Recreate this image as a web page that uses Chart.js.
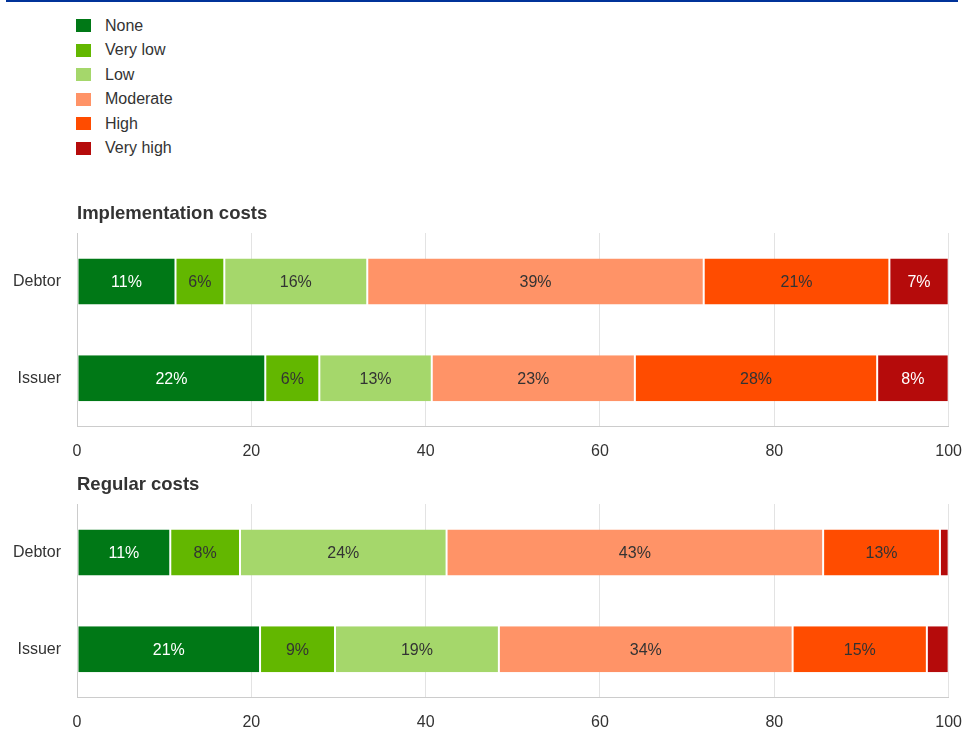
<!DOCTYPE html>
<html>
<head>
<meta charset="utf-8">
<script src="https://cdn.jsdelivr.net/npm/chart.js@4"></script>
<style>
  body { margin: 0; width: 964px; height: 729px; overflow: hidden; background: #fff; font-family: "Liberation Sans", Arial, sans-serif; }
  #topline { position: absolute; left: 6px; right: 6px; top: 0; height: 2px; background: #003299; }
  #legend { position: absolute; left: 76px; top: 13.5px; }
  .row { display: flex; align-items: center; height: 24.5px; font-size: 16px; color: #333; }
  .box { width: 15px; height: 13px; margin-right: 14px; }
  .wrap { position: absolute; left: 0; width: 977px; height: 287px; }
</style>
</head>
<body>
<div id="topline"></div>
<div id="legend"></div>
<div class="wrap" style="top:189px"><canvas id="implChart"></canvas></div>
<div class="wrap" style="top:460px"><canvas id="regChart"></canvas></div>
<script>
var categories = ['Debtor', 'Issuer'];
var levels = ['None', 'Very low', 'Low', 'Moderate', 'High', 'Very high'];
var colors = ['#007816', '#63b700', '#a5d76b', '#ff9367', '#ff4c00', '#b50b0b'];
var labelColors = ['#fff', '#333', '#333', '#333', '#333', '#fff'];

// shares in %, per level (None .. Very high)
var implDebtor = [11.3, 5.6, 16.4, 38.6, 21.3, 6.8];
var implIssuer = [21.6, 6.2, 12.9, 23.3, 27.8, 8.2];
var regDebtor = [10.7, 8.0, 23.7, 43.2, 13.4, 1.0];
var regIssuer = [21.0, 8.6, 18.8, 33.7, 15.4, 2.5];

var font = '"Liberation Sans", Arial, sans-serif';

// html legend
var legend = document.getElementById('legend');
levels.forEach(function (name, i) {
  var row = document.createElement('div');
  row.className = 'row';
  row.innerHTML = '<span class="box" style="background:' + colors[i] + '"></span><span>' + name + '</span>';
  legend.appendChild(row);
});

var barLabels = {
  id: 'barLabels',
  afterDatasetsDraw: function (chart) {
    var ctx = chart.ctx;
    chart.data.datasets.forEach(function (ds, i) {
      chart.getDatasetMeta(i).data.forEach(function (bar, j) {
        var w = Math.abs(bar.x - bar.base);
        if (w < 30) return;
        ctx.save();
        ctx.fillStyle = labelColors[i];
        ctx.font = '16px ' + font;
        ctx.textAlign = 'center';
        ctx.textBaseline = 'middle';
        ctx.fillText(Math.round(ds.data[j]) + '%', (bar.x + bar.base) / 2, bar.y + 1);
        ctx.restore();
      });
    });
  }
};

function makeChart(id, title, debtor, issuer) {
  return new Chart(document.getElementById(id), {
    type: 'bar',
    data: {
      labels: categories,
      datasets: levels.map(function (name, i) {
        return {
          label: name,
          data: [debtor[i], issuer[i]],
          backgroundColor: colors[i],
          borderColor: '#fff',
          borderWidth: { left: 1, right: 1, top: 0, bottom: 0 },
          borderSkipped: false,
          barPercentage: 0.95,
          categoryPercentage: 0.5
        };
      })
    },
    options: {
      indexAxis: 'y',
      responsive: true,
      maintainAspectRatio: false,
      animation: false,
      layout: { padding: { left: 0, right: 4, top: 0, bottom: 0 } },
      plugins: {
        legend: { display: false },
        tooltip: { enabled: false },
        title: {
          display: true,
          text: title,
          align: 'start',
          fullSize: false,
          color: '#333',
          font: { family: font, size: 18.5, weight: 'bold' },
          padding: { top: 13.5, bottom: 8.3 }
        }
      },
      scales: {
        x: {
          stacked: true,
          min: 0,
          max: 100,
          ticks: {
            stepSize: 20,
            padding: 15,
            color: '#333',
            font: { family: font, size: 16 }
          },
          grid: { color: '#e3e3e3', tickLength: 0, drawTicks: false },
          border: { color: '#cccccc' }
        },
        y: {
          stacked: true,
          ticks: {
            padding: 16,
            color: '#333',
            font: { family: font, size: 16 }
          },
          grid: { display: false, drawTicks: false },
          border: { display: true, color: '#cccccc' },
          afterFit: function (scale) { scale.width = 77; }
        }
      }
    },
    plugins: [barLabels]
  });
}

makeChart('implChart', 'Implementation costs', implDebtor, implIssuer);
makeChart('regChart', 'Regular costs', regDebtor, regIssuer);
</script>
</body>
</html>
